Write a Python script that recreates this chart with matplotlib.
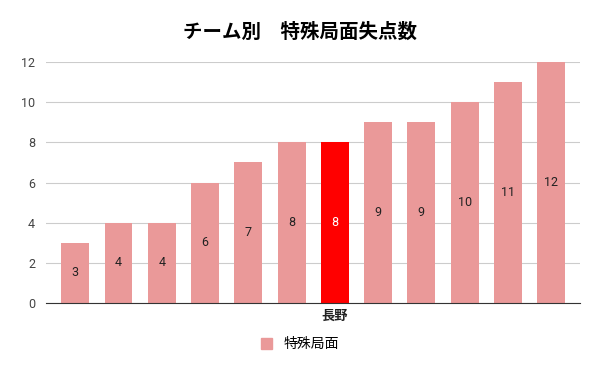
import numpy as np
import matplotlib.pyplot as plt
from matplotlib.patches import Patch

plt.rcParams['font.family'] = ['Roboto', 'Noto Sans CJK JP', 'DejaVu Sans']

# data
values = [3, 4, 4, 6, 7, 8, 8, 9, 9, 10, 11, 12]
highlight = 6
xlabels = ['', '', '', '', '', '', '長野', '', '', '', '', '']
series_name = '特殊局面'
title = 'チーム別　特殊局面失点数'

pink = '#ea9999'
red = '#ff0000'

fig = plt.figure(figsize=(6, 3.71), dpi=100)
ax = fig.add_axes([0.077, 0.183, 0.89, 0.650])

x = np.arange(len(values))
colors = [red if i == highlight else pink for i in x]
ax.bar(x, values, width=0.645, color=colors, label=series_name, zorder=2)

for i, (xi, v) in enumerate(zip(x, values)):
    ax.text(xi, v / 2, str(v), ha='center', va='center', fontsize=9,
            color='white' if i == highlight else '#222222', zorder=3)

ax.set_xlim(-0.67, len(values) - 0.33)
ax.set_ylim(0, 12)
ax.set_yticks(range(0, 13, 2))
ax.set_xticks(x)
ax.set_xticklabels(xlabels, fontsize=9.5, fontweight='bold', color='#222222')
ax.tick_params(axis='both', length=0, colors='#444444')
ax.tick_params(axis='y', labelsize=9, pad=8)
ax.tick_params(axis='x', pad=5, labelcolor='#222222')
ax.grid(axis='y', color='#cccccc', linewidth=0.8, zorder=0)
for s in ['top', 'right', 'left']:
    ax.spines[s].set_visible(False)
ax.spines['bottom'].set_color('#333333')
ax.spines['bottom'].set_zorder(4)

fig.suptitle(title, y=0.94, fontsize=14, fontweight='bold')

fig.legend(handles=[Patch(color=pink)], labels=[series_name], loc='center',
           bbox_to_anchor=(0.5, 0.072), frameon=False, fontsize=10,
           handlelength=0.8, handleheight=0.8, handletextpad=0.8)

fig.savefig('out.png', dpi=100)
